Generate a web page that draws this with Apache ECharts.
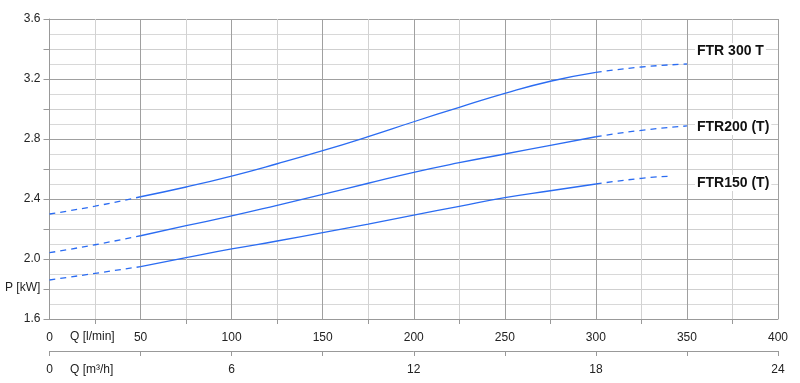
<!DOCTYPE html>
<html>
<head>
<meta charset="utf-8">
<script src="https://cdn.jsdelivr.net/npm/echarts@6/dist/echarts.min.js"></script>
<style>
html,body{margin:0;padding:0;background:#fff;}
#chart{width:800px;height:383px;}
</style>
</head>
<body>
<div id="chart"></div>
<script>
// ---- data ----
const curveNames = ['FTR 300 T', 'FTR200 (T)', 'FTR150 (T)'];
const q300 = [0, 25, 50, 75, 100, 125, 150, 175, 200, 225, 250, 275, 300, 325, 350];
const p300 = [2.30, 2.352, 2.415, 2.48, 2.553, 2.635, 2.722, 2.816, 2.915, 3.011, 3.104, 3.185, 3.244, 3.28, 3.30];
const q200 = [0, 25, 50, 75, 100, 125, 150, 175, 200, 225, 250, 275, 300, 325, 350];
const p200 = [2.042, 2.095, 2.155, 2.222, 2.287, 2.358, 2.431, 2.505, 2.578, 2.642, 2.70, 2.758, 2.815, 2.858, 2.887];
const q150 = [0, 25, 50, 75, 100, 125, 150, 175, 200, 225, 250, 275, 300, 325, 342];
const p150 = [1.86, 1.904, 1.949, 2.009, 2.067, 2.12, 2.176, 2.233, 2.293, 2.351, 2.409, 2.455, 2.50, 2.538, 2.553];
const solidFrom = 50, solidTo = 300;   // l/min range drawn solid
const qTicksLmin = [0, 50, 100, 150, 200, 250, 300, 350, 400];
const qTicksM3h = [0, 6, 12, 18, 24];
const pTicks = [1.6, 2.0, 2.4, 2.8, 3.2, 3.6];

const lineColor = '#2b6cf2';
const font = 'Arial, "Liberation Sans", sans-serif';

function segs(q, p) {
  const pts = q.map((x, i) => [x, p[i]]);
  return {
    head: pts.filter(d => d[0] <= solidFrom),
    mid: pts.filter(d => d[0] >= solidFrom && d[0] <= solidTo),
    tail: pts.filter(d => d[0] >= solidTo)
  };
}
const curves = [[q300, p300], [q200, p200], [q150, p150]];
const series = [];
curves.forEach((c, i) => {
  const s = segs(c[0], c[1]);
  [['head', [6, 5]], ['mid', 'solid'], ['tail', [6, 5]]].forEach(([k, type]) => {
    series.push({
      name: curveNames[i] + '-' + k,
      type: 'line', xAxisIndex: 0, yAxisIndex: 0,
      data: s[k], smooth: 0.5, showSymbol: false, silent: true,
      lineStyle: { color: lineColor, width: 1.3, type: type }
    });
  });
});

const labelStyle = (text) => ({
  text: text, font: 'bold 14px ' + font, fill: '#111',
  backgroundColor: '#fff', padding: [1, 2, 1, 2]
});

const chart = echarts.init(document.getElementById('chart'), null, { renderer: 'canvas' });
chart.setOption({
  animation: false,
  backgroundColor: '#fff',
  grid: { left: 49.5, right: 22, top: 19, bottom: 64, containLabel: false },
  xAxis: [
    {
      type: 'value', min: 0, max: 400, interval: 50, position: 'bottom',
      axisLine: { show: true, onZero: false, lineStyle: { color: '#999', width: 1 } },
      axisTick: { show: false },
      minorTick: { show: true, splitNumber: 2, length: 5, lineStyle: { color: '#999' } },
      splitLine: { show: true, lineStyle: { color: '#a0a0a0', width: 1 } },
      minorSplitLine: { show: true, lineStyle: { color: '#d2d2d2', width: 1 } },
      axisLabel: {
        margin: 13, color: '#222', fontSize: 12, fontFamily: font,
        formatter: v => (qTicksLmin.indexOf(v) >= 0 ? String(v) : '')
      }
    },
    {
      type: 'value', min: 0, max: 24, interval: 6, position: 'bottom', offset: 32,
      axisLine: { show: true, onZero: false, lineStyle: { color: '#999', width: 1 } },
      axisTick: { show: true, length: 5, lineStyle: { color: '#999' } },
      minorTick: { show: true, splitNumber: 2, length: 5, lineStyle: { color: '#999' } },
      splitLine: { show: false },
      axisLabel: {
        margin: 13, color: '#222', fontSize: 12, fontFamily: font,
        formatter: v => (qTicksM3h.indexOf(v) >= 0 ? String(v) : '')
      }
    }
  ],
  yAxis: {
    type: 'value', min: 1.6, max: 3.6, interval: 0.2,
    axisLine: { show: true, lineStyle: { color: '#999', width: 1 } },
    axisTick: { show: true, length: 6, lineStyle: { color: '#999' } },
    splitLine: { show: true, lineStyle: { color: ['#a0a0a0', '#cfcfcf'], width: 1 } },
    minorSplitLine: { show: true, lineStyle: { color: '#d8d8d8', width: 1 } },
    minorTick: { show: false, splitNumber: 2 },
    axisLabel: {
      margin: 9, color: '#222', fontSize: 12, fontFamily: font,
      formatter: v => {
        const r = Math.round(v * 10) / 10;
        return pTicks.some(t => Math.abs(t - r) < 1e-6) ? r.toFixed(1) : '';
      }
    }
  },
  graphic: [
    { type: 'text', left: 70, top: 331, style: { text: 'Q [l/min]', font: '12px ' + font, fill: '#222' } },
    { type: 'text', left: 70, top: 364, style: { text: 'Q [m³/h]', font: '12px ' + font, fill: '#222' } },
    { type: 'text', left: 5, top: 282, style: { text: 'P [kW]', font: '12px ' + font, fill: '#222' } },
    { type: 'text', left: 695, top: 43, z: 100, style: labelStyle(curveNames[0]) },
    { type: 'text', left: 695, top: 119, z: 100, style: labelStyle(curveNames[1]) },
    { type: 'text', left: 695, top: 175, z: 100, style: labelStyle(curveNames[2]) }
  ],
  series: series
});
</script>
</body>
</html>
